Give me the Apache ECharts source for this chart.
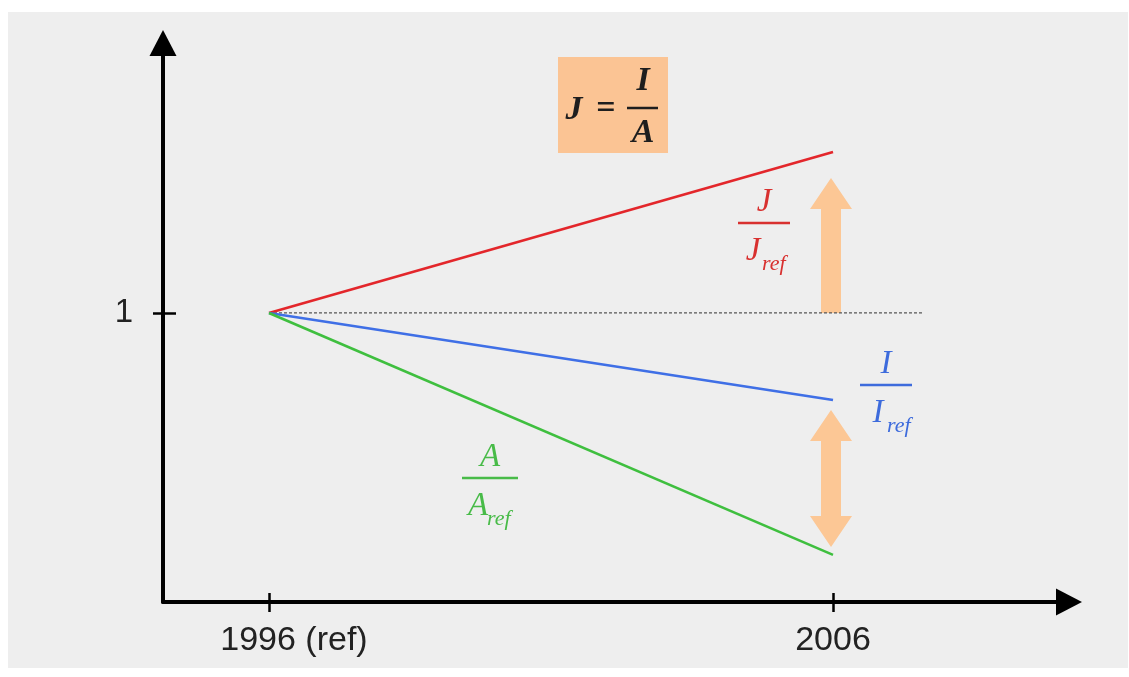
<!DOCTYPE html>
<html>
<head>
<meta charset="utf-8">
<title>J = I / A</title>
<script src="https://cdn.jsdelivr.net/npm/echarts@6/dist/echarts.min.js"></script>
<style>
  html, body { margin: 0; padding: 0; background: #ffffff; }
  #panel { position: absolute; left: 8px; top: 12px; width: 1120px; height: 656px; background: #eeeeee; }
  #chart { position: absolute; left: 0; top: 0; width: 1129px; height: 677px; }
</style>
</head>
<body>
<div id="panel"></div>
<div id="chart"></div>
<script>
// Years on the horizontal axis and their tick labels
const years = [1996, 2006];
const yearLabels = ['1996 (ref)', '2006'];
// Ratios relative to the reference year
const jRatio = [1, 1.557];   // J / J_ref
const iRatio = [1, 0.699];   // I / I_ref
const aRatio = [1, 0.163];   // A / A_ref
// Reference level drawn as a dotted line
const refLevelX = [1996, 2007.58];
const refLevel = 1;
const yTicks = [1];
// Block arrows at 2006: [year, from, to, heads]
const arrowUp = [2006, 1.0, 1.467, 1];
const arrowBoth = [2006, 0.664, 0.190, 2];

const xMin = 1994.121, xMax = 2010.184;
const yMin = 0, yMax = 1.934;

const RED = '#e3262b', BLUE = '#3f6fe6', GREEN = '#3fbf3f', PEACH = '#fcc795';

const chart = echarts.init(document.getElementById('chart'), null, { renderer: 'canvas' });

function series(vals) {
  return years.map((y, i) => [y, vals[i]]);
}

function arrowItem(params, api) {
  const x = api.value(0);
  const a = api.coord([x, api.value(1)]);
  const b = api.coord([x, api.value(2)]);
  const heads = api.value(3);
  const cx = a[0] - 2;
  const top = Math.min(a[1], b[1]);
  const bot = Math.max(a[1], b[1]);
  const sw = 10, hw = 21, hl = 31;
  const headBot = heads === 2;
  const pts = [[cx, top], [cx + hw, top + hl], [cx + sw, top + hl]];
  if (headBot) { pts.push([cx + sw, bot - hl], [cx + hw, bot - hl], [cx, bot], [cx - hw, bot - hl], [cx - sw, bot - hl]); }
  else { pts.push([cx + sw, bot], [cx - sw, bot]); }
  pts.push([cx - sw, top + hl], [cx - hw, top + hl]);
  return { type: 'polygon', shape: { points: pts }, style: { fill: PEACH } };
}

const serif = '"Liberation Serif", "DejaVu Serif", serif';

function fraction(num, den, cx, lineY, lineW, denX, color) {
  return [
    { type: 'text', x: cx, y: lineY - 21, style: { text: num, fill: color, font: 'italic 33px ' + serif, align: 'center', verticalAlign: 'middle' } },
    { type: 'line', shape: { x1: cx - lineW / 2, y1: lineY, x2: cx + lineW / 2, y2: lineY }, style: { stroke: color, lineWidth: 2.5 } },
    { type: 'text', x: denX, y: lineY + 28, style: { text: den, fill: color, font: 'italic 33px ' + serif, align: 'center', verticalAlign: 'middle' } },
    { type: 'text', x: denX + 9, y: lineY + 41, style: { text: 'ref', fill: color, font: 'italic 22px ' + serif, align: 'left', verticalAlign: 'middle' } }
  ];
}

const axisFont = '"Liberation Sans", Arial, sans-serif';
const gridBox = { left: 163, right: 60, top: 43, bottom: 75, containLabel: false, outerBoundsMode: 'none' };

const option = {
  animation: false,
  grid: [Object.assign({}, gridBox), Object.assign({}, gridBox)],
  xAxis: [
    {
      gridIndex: 0, type: 'value', min: xMin, max: xMax, position: 'bottom',
      axisLine: { show: true, onZero: false, lineStyle: { color: '#000', width: 4 }, symbol: ['none', 'triangle'], symbolSize: [27, 26] },
      axisTick: { show: true, customValues: years, length: 10, lineStyle: { color: '#000', width: 2.5 } },
      axisLabel: {
        show: true, customValues: years,
        formatter: v => {
          const i = years.indexOf(v);
          return i === 0 ? '{first|' + yearLabels[i] + '}' : (yearLabels[i] || '');
        },
        rich: { first: { fontSize: 34, fontFamily: axisFont, color: '#222', padding: [0, 0, 0, 50] } },
        color: '#222', fontSize: 34, fontFamily: axisFont, margin: 22
      },
      splitLine: { show: false }
    },
    {
      gridIndex: 1, type: 'value', min: xMin, max: xMax, position: 'bottom',
      axisLine: { show: false, onZero: false },
      axisTick: { show: true, inside: true, customValues: years, length: 9, lineStyle: { color: '#000', width: 2.5 } },
      axisLabel: { show: false },
      splitLine: { show: false }
    }
  ],
  yAxis: [
    {
      gridIndex: 0, type: 'value', min: yMin, max: yMax, position: 'left',
      axisLine: { show: true, onZero: false, lineStyle: { color: '#000', width: 4 }, symbol: ['none', 'triangle'], symbolSize: [27, 26] },
      axisTick: { show: true, customValues: yTicks, length: 10, lineStyle: { color: '#000', width: 2.5 } },
      axisLabel: { show: true, customValues: yTicks, formatter: v => String(v), color: '#222', fontSize: 33, fontFamily: axisFont, margin: 30 },
      splitLine: { show: false }
    },
    {
      gridIndex: 1, type: 'value', min: yMin, max: yMax, position: 'left',
      axisLine: { show: false, onZero: false },
      axisTick: { show: true, inside: true, customValues: yTicks, length: 13, lineStyle: { color: '#000', width: 2.5 } },
      axisLabel: { show: false },
      splitLine: { show: false }
    }
  ],
  series: [
    {
      name: 'ref', type: 'line', xAxisIndex: 0, yAxisIndex: 0, symbol: 'none', silent: true,
      data: refLevelX.map(x => [x, refLevel]),
      lineStyle: { color: '#555', width: 1.2, type: [3, 2] }, z: 1
    },
    {
      name: 'arrows', type: 'custom', xAxisIndex: 0, yAxisIndex: 0, silent: true,
      renderItem: arrowItem, encode: { x: 0, y: [1, 2] },
      data: [arrowUp, arrowBoth], z: 1
    },
    {
      name: 'J', type: 'line', xAxisIndex: 0, yAxisIndex: 0, symbol: 'none',
      data: series(jRatio), lineStyle: { color: RED, width: 2.6 }, z: 3
    },
    {
      name: 'I', type: 'line', xAxisIndex: 0, yAxisIndex: 0, symbol: 'none',
      data: series(iRatio), lineStyle: { color: BLUE, width: 2.6 }, z: 3
    },
    {
      name: 'A', type: 'line', xAxisIndex: 0, yAxisIndex: 0, symbol: 'none',
      data: series(aRatio), lineStyle: { color: GREEN, width: 2.6 }, z: 3
    }
  ],
  graphic: [
    // formula box J = I / A
    { type: 'rect', shape: { x: 558, y: 57, width: 110, height: 96 }, style: { fill: '#fbc494' } },
    { type: 'text', x: 574, y: 110, style: { text: 'J', fill: '#1e1e1e', font: 'italic bold 34px ' + serif, align: 'center', verticalAlign: 'middle' } },
    { type: 'text', x: 606, y: 109, style: { text: '=', fill: '#1e1e1e', font: 'bold 34px ' + serif, align: 'center', verticalAlign: 'middle' } },
    { type: 'line', shape: { x1: 627, y1: 108, x2: 658, y2: 108 }, style: { stroke: '#1e1e1e', lineWidth: 2.5 } },
    { type: 'text', x: 643, y: 81, style: { text: 'I', fill: '#1e1e1e', font: 'italic bold 34px ' + serif, align: 'center', verticalAlign: 'middle' } },
    { type: 'text', x: 643, y: 133, style: { text: 'A', fill: '#1e1e1e', font: 'italic bold 34px ' + serif, align: 'center', verticalAlign: 'middle' } }
  ]
    .concat(fraction('J', 'J', 764, 223, 52, 753, '#d8302f'))
    .concat(fraction('I', 'I', 886, 385, 52, 878, '#3d6bdc'))
    .concat(fraction('A', 'A', 490, 478, 56, 478, '#48bb48'))
};

chart.setOption(option);
</script>
</body>
</html>
